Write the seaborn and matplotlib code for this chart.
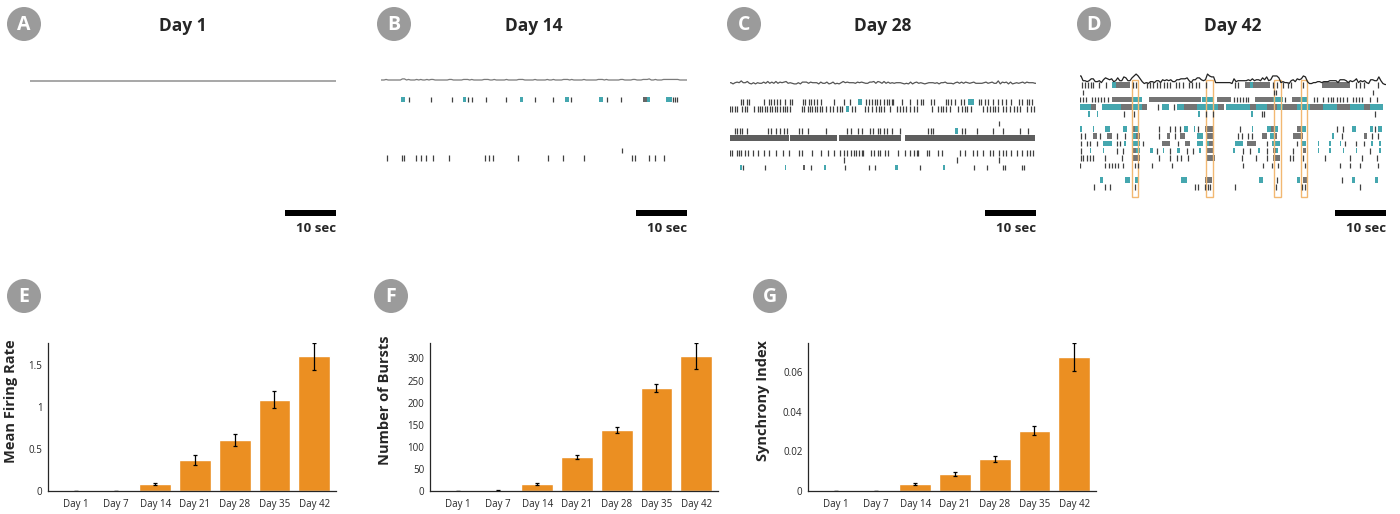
import numpy as np
import matplotlib
matplotlib.use("Agg")
import matplotlib.pyplot as plt
from matplotlib.patches import Circle, Rectangle
import seaborn as sns

# ---------------- bar chart values (E, F, G) ----------------
days = ["Day 1", "Day 7", "Day 14", "Day 21", "Day 28", "Day 35", "Day 42"]
firing_rate = [0.0, 0.003, 0.085, 0.37, 0.61, 1.085, 1.60]
firing_rate_err = [0.0, 0.002, 0.012, 0.055, 0.07, 0.10, 0.16]
bursts = [0, 1, 16, 77, 138, 233, 306]
bursts_err = [0, 1, 3, 4, 7, 10, 29]
synchrony = [0.0, 0.0, 0.0035, 0.0086, 0.0161, 0.0303, 0.0676]
synchrony_err = [0.0, 0.0, 0.0005, 0.0008, 0.0015, 0.0023, 0.0070]

# ---------------- raster data (seconds), one entry per electrode row ----------------
# Day 14
d14_ticks = [
    [5.5, 9.9, 13.9, 17.1, 17.8, 20.6, 24.5, 30.1, 33.7, 37.2, 44.3, 47.1, 57.3, 57.6, 58.0],
    [], [], [], [], [], [],
    [47.3],
    [1.1, 4.1, 4.5, 6.9, 7.9, 8.8, 10.2, 13.3, 20.3, 21.1, 22.0, 26.8, 32.7, 35.6, 39.8,
     49.2, 49.9, 52.5, 53.8, 55.4],
]
d14_dark = [[(51.4, 52.2)], [], [], [], [], [], [], [], []]
d14_teal = [[(4.0, 4.8), (16.0, 16.6), (27.3, 27.9), (36.0, 36.8), (42.8, 43.5), (52.2, 52.7),
             (55.9, 57.0)], [], [], [], [], [], [], [], []]

# Day 28
d28_ticks = [
    [2.2, 2.6, 3.4, 3.7, 6.7, 7.6, 8.0, 8.6, 9.2, 9.9, 10.8, 11.8, 12.2, 14.4, 14.8, 15.5, 15.9,
     16.5, 17.1, 17.8, 20.4, 22.4, 23.5, 26.6, 27.3, 27.9, 28.4, 28.9, 29.5, 30.1, 30.7, 31.2,
     31.7, 32.0, 33.7, 35.2, 36.7, 37.4, 37.9, 39.5, 40.0, 42.4, 42.8, 43.3, 44.1, 45.2, 45.8,
     48.9, 49.3, 50.0, 50.5, 51.5, 52.6, 53.3, 54.2, 55.0, 56.7, 57.2, 58.2, 58.7, 59.3],
    [0.0, 0.3, 0.9, 1.4, 2.4, 2.9, 3.4, 4.8, 5.4, 5.9, 6.3, 6.8, 7.3, 7.8, 8.3, 8.8, 9.3, 9.8,
     10.3, 10.7, 11.2, 11.8, 14.2, 14.6, 15.2, 15.7, 16.1, 16.6, 17.1, 17.6, 18.1, 18.8, 19.6,
     20.1, 20.9, 21.6, 22.0, 24.0, 24.6, 26.4, 27.1, 27.9, 28.6, 29.2, 29.7, 30.2, 31.4, 32.7,
     33.3, 33.9, 34.5, 35.2, 36.0, 36.7, 39.7, 40.8, 41.3, 41.8, 42.4, 43.1, 44.8, 45.4, 46.1,
     46.5, 47.2, 49.7, 50.3, 51.0, 51.5, 52.0, 52.6, 53.5, 54.1, 54.9, 55.6, 56.2, 56.9, 58.2,
     59.0, 59.6],
    [],
    [52.8],
    [1.0, 1.4, 1.9, 2.4, 3.4, 7.5, 8.0, 9.0, 9.9, 10.5, 11.2, 13.5, 14.2, 15.2, 18.8, 22.9, 23.8,
     25.0, 25.8, 27.5, 28.1, 29.0, 29.5, 30.2, 30.8, 31.7, 33.3, 38.9, 39.4, 39.9, 45.4, 46.1,
     48.4, 51.5, 53.6, 56.9, 58.5],
    [],
    [],
    [0.0, 0.3, 1.3, 1.8, 2.2, 2.9, 3.5, 4.6, 5.4, 6.7, 7.6, 9.0, 10.3, 11.6, 13.5, 14.2, 16.1,
     17.8, 19.2, 20.4, 21.6, 22.4, 23.0, 23.7, 24.3, 24.8, 25.3, 25.8, 26.1, 27.6, 28.2, 29.0,
     29.5, 30.4, 31.0, 33.0, 34.3, 35.3, 36.0, 36.6, 36.9, 38.6, 39.1, 40.8, 41.5, 45.1, 46.1,
     47.7, 48.5, 49.7, 51.0, 51.6, 52.8, 53.5, 54.2, 55.0, 56.2, 57.2, 58.2, 58.9, 59.5],
    [22.4, 44.6, 52.7],
    [2.6, 6.9, 15.8, 22.5, 27.3, 28.4, 37.3, 47.8, 50.3, 53.6, 53.9, 57.2, 57.7],
]
d28_dark = [[], [], [], [], [],
            [(0.0, 11.5), (11.8, 21.0), (21.3, 33.6), (34.4, 59.8)],
            [], [], [], [(14.4, 14.8)]]
d28_teal = [[(25.0, 25.9), (46.7, 47.8)], [(22.7, 23.3)], [], [], [(44.2, 44.8)],
            [], [], [], [],
            [(2.0, 2.3), (10.7, 11.0), (18.5, 18.8), (32.4, 32.9), (41.8, 42.2)]]

# Day 42
d42_ticks = [
    [0.3, 1.0, 1.6, 2.1, 2.6, 3.8, 5.1, 10.4, 11.0, 13.1, 13.8, 14.4, 15.1, 15.7, 16.4, 17.0,
     17.6, 18.9, 19.5, 20.2, 21.4, 22.0, 22.7, 23.4, 24.8, 30.4, 31.0, 37.9, 38.6, 39.9, 40.8,
     41.3, 43.8, 54.2, 54.9, 55.6, 58.5],
    [0.5, 38.0, 38.4, 57.5],
    [0.0, 0.6, 1.2, 2.4, 3.0, 3.6, 4.1, 4.7, 5.4, 30.1, 30.7, 31.4, 32.0, 32.5, 33.0, 40.2,
     45.8, 46.4, 47.7, 48.7, 49.2, 49.7, 50.3, 51.0, 51.6, 52.3, 53.6, 54.2, 54.8, 55.2, 56.9,
     58.2],
    [15.2, 18.4],
    [8.7, 10.6, 24.8, 26.1, 35.6, 36.1, 57.9],
    [],
    [15.4, 17.6, 18.6, 19.6, 23.2, 31.4, 50.3, 51.6, 57.8],
    [0.2, 1.0, 3.9, 7.2, 8.8, 15.4, 18.6, 31.0, 31.7, 33.0, 33.7, 51.3, 57.2, 58.5],
    [0.2, 1.3, 2.0, 3.3, 7.2, 7.8, 12.3, 19.3, 36.6, 42.5, 52.0, 54.2, 55.6],
    [0.2, 7.2, 8.5, 15.0, 17.6, 20.9, 22.2, 32.0, 33.3, 36.6, 41.8, 56.9],
    [0.2, 0.6, 1.3, 2.0, 2.6, 4.9, 8.2, 15.4, 17.6, 19.0, 19.9, 21.2, 31.7, 34.6, 36.6, 41.2,
     41.8, 43.8, 48.0, 52.9, 55.2, 58.2],
    [0.0, 4.9, 5.6, 6.2, 6.9, 7.5, 8.5, 10.8, 11.4, 14.1, 18.0, 32.0, 35.9, 37.6, 38.9, 44.1,
     51.0, 52.9, 54.9, 58.5],
    [],
    [38.6, 51.3],
    [2.7, 4.9, 5.8, 10.8, 22.5, 23.2, 24.5, 25.0, 25.5, 30.4, 38.4, 43.5, 44.1, 54.9],
]
d42_dark = [
    [(7.0, 9.8), (32.4, 33.3), (34.0, 37.3), (47.4, 52.9)],
    [],
    [(6.3, 10.3), (13.5, 23.7), (26.9, 29.6), (34.3, 37.9), (41.5, 43.2)],
    [(2.1, 3.1), (8.0, 10.3), (12.2, 13.2), (20.4, 23.0), (27.0, 28.2), (33.3, 34.6),
     (36.6, 38.6), (39.9, 42.5), (45.1, 47.7), (50.3, 52.9), (55.6, 56.9)],
    [],
    [],
    [(10.1, 10.8), (24.5, 26.1), (37.5, 38.0), (42.5, 43.6)],
    [(2.6, 3.3), (5.2, 6.2), (11.0, 11.8), (17.0, 17.6), (19.6, 20.6), (24.8, 26.1),
     (35.6, 36.6), (38.0, 38.6), (41.8, 43.8), (55.6, 56.2)],
    [(16.0, 17.6), (20.6, 21.6), (25.3, 26.1), (32.7, 34.6)],
    [(10.1, 11.0), (24.8, 26.1), (37.9, 38.5), (43.8, 44.4)],
    [(10.1, 11.8), (24.8, 26.5), (37.9, 39.2)],
    [],
    [],
    [(24.5, 25.8), (43.8, 44.6)],
    [],
]
d42_teal = [
    [(6.2, 7.0), (33.3, 34.0)],
    [],
    [(10.3, 12.2), (24.0, 26.3), (37.9, 39.9), (43.2, 44.8)],
    [(0.0, 2.1), (4.4, 8.0), (10.3, 12.2), (16.1, 17.5), (19.1, 20.4), (23.0, 27.0),
     (28.6, 33.3), (34.6, 36.6), (38.6, 39.9), (42.5, 45.1), (47.7, 50.3), (52.9, 55.6),
     (56.9, 59.5)],
    [(1.6, 1.9), (3.3, 3.6), (23.1, 23.5), (33.6, 33.9)],
    [],
    [(0.0, 0.4), (2.5, 2.8), (4.9, 5.9), (8.5, 9.2), (10.8, 11.6), (20.3, 21.2), (22.3, 22.6),
     (33.7, 34.0), (36.6, 37.5), (38.0, 38.9), (43.6, 44.4), (53.3, 54.2), (56.9, 57.5),
     (58.5, 59.2)],
    [(10.1, 11.0), (22.9, 24.2), (37.3, 38.0), (49.5, 49.9)],
    [(4.6, 6.2), (8.7, 9.0), (10.1, 11.8), (22.9, 24.2), (24.8, 25.3), (30.4, 32.0),
     (37.6, 39.2), (43.5, 44.4), (46.6, 46.9), (48.9, 49.2), (50.9, 51.2), (57.1, 57.4),
     (58.7, 59.0)],
    [(1.9, 2.2), (4.5, 4.8), (11.0, 11.8), (13.7, 14.4), (16.2, 16.5), (19.0, 19.6),
     (23.4, 23.7), (30.0, 30.3), (34.9, 35.2), (38.5, 38.9), (46.6, 46.9), (48.9, 49.2),
     (51.5, 51.8), (54.1, 54.4), (58.7, 59.0)],
    [],
    [],
    [],
    [(3.9, 4.6), (8.8, 9.8), (10.8, 11.4), (19.9, 20.9), (35.0, 35.9), (42.5, 43.1),
     (53.3, 53.9), (57.8, 58.5)],
    [],
]
d42_sync_windows = [(10.1, 11.4), (24.7, 26.1), (38.0, 39.4), (43.3, 44.5)]

# ---------------- style ----------------
sns.set_theme(style="white")
plt.rcParams["font.family"] = ["Open Sans", "DejaVu Sans"]

ORANGE = "#EB8F22"
TEAL = "#45a7af"
TICK_C = "#404040"
W, H = 1400, 514

fig = plt.figure(figsize=(14, 5.14), dpi=100)


def population_trace(ticks, dark, teal, bins):
    counts = np.zeros(len(bins) - 1)
    for r in range(len(ticks)):
        active = np.zeros(len(bins) - 1, dtype=bool)
        if ticks[r]:
            h, _ = np.histogram(ticks[r], bins)
            active |= h > 0
        for s, e in dark[r] + teal[r]:
            active |= (bins[1:] > s) & (bins[:-1] < e)
        counts += active
    return counts


# (title, left px, first row px, trace base px, gain, trace colour, dense colour, ticks, dark, teal)
panels = [
    ("Day 1", 30, 99.0, 81.0, 0.0, "#a0a0a0", "#666666", [], [], []),
    ("Day 14", 381, 99.3, 80.0, 0.55, "#7a7a7a", "#666666", d14_ticks, d14_dark, d14_teal),
    ("Day 28", 730, 101.7, 84.5, 0.6, "#555555", "#5e5e5e", d28_ticks, d28_dark, d28_teal),
    ("Day 42", 1080, 85.0, 84.5, 0.95, "#222222", "#747474", d42_ticks, d42_dark, d42_teal),
]
ROW_STEP = 7.3
TICK_H = 5.6
bins = np.arange(0, 60.01, 0.4)
centers = (bins[:-1] + bins[1:]) / 2

for title, left, row0, tbase, gain, tcol, dcol, ticks, dark, teal in panels:
    ax = fig.add_axes([left / W, (H - 240) / H, 306 / W, 180 / H])
    ax.set_xlim(0, 60)
    ax.set_ylim(240, 60)
    ax.axis("off")

    # population rate trace
    if ticks:
        cnt = population_trace(ticks, dark, teal, bins)
        ax.plot(np.r_[0, centers, 60], tbase - gain * np.r_[cnt[0], cnt, cnt[-1]],
                color=tcol, lw=0.9)
    else:
        ax.plot([0, 60], [tbase, tbase], color=tcol, lw=1.3)

    for r in range(len(ticks)):
        y = row0 + ROW_STEP * r
        if dark[r]:
            ax.broken_barh([(s, e - s) for s, e in dark[r]], (y - TICK_H / 2, TICK_H),
                           facecolor=dcol, edgecolor="none")
        if teal[r]:
            ax.broken_barh([(s, e - s) for s, e in teal[r]], (y - TICK_H / 2, TICK_H),
                           facecolor=TEAL, edgecolor="none")
        if ticks[r]:
            ax.vlines(ticks[r], y - TICK_H / 2, y + TICK_H / 2, color=TICK_C, lw=0.9)

    if title == "Day 42":
        for s, e in d42_sync_windows:
            ax.add_patch(Rectangle((s, 80), e - s, 117, fill=False,
                                   edgecolor="#f2b872", lw=1.0))

    # scale bar 10 s
    ax.add_patch(Rectangle((50, 210), 10, 6, facecolor="black", edgecolor="none"))
    ax.text(60, 229, "10 sec", ha="right", va="center", fontsize=9.5, fontweight="bold")

# ---------------- bar charts ----------------
bar_specs = [
    (48, firing_rate, firing_rate_err, "Mean Firing Rate", 1.76,
     [0, 0.5, 1, 1.5], ["0", "0.5", "1", "1.5"], 0.104),
    (430, bursts, bursts_err, "Number of Bursts", 335,
     [0, 50, 100, 150, 200, 250, 300], None, 0.132),
    (808, synchrony, synchrony_err, "Synchrony Index", 0.0745,
     [0, 0.02, 0.04, 0.06], ["0", "0.02", "0.04", "0.06"], 0.132),
]
for left, vals, errs, ylabel, ytop, yt, ytl, lab_x in bar_specs:
    ax = fig.add_axes([left / W, (H - 491) / H, 288 / W, 148 / H])
    sns.barplot(x=days, y=vals, color=ORANGE, saturation=1, width=0.8, ax=ax,
                errorbar=None)
    ax.errorbar(range(len(days)), vals, yerr=errs, fmt="none", ecolor="black",
                elinewidth=0.9, capsize=1.6, capthick=0.9)
    ax.set_xlim(-0.7, 6.55)
    ax.set_ylim(0, ytop)
    ax.set_yticks(yt)
    if ytl:
        ax.set_yticklabels(ytl)
    ax.set_xlabel("")
    ax.set_ylabel(ylabel, fontsize=10.5, fontweight="bold")
    ax.yaxis.set_label_coords(-lab_x, 0.61)
    for s in ["top", "right"]:
        ax.spines[s].set_visible(False)
    for s in ["left", "bottom"]:
        ax.spines[s].set_color("#262626")
        ax.spines[s].set_linewidth(0.9)
    ax.tick_params(direction="in", length=3, width=0.8, colors="#262626",
                   labelsize=7, pad=4)
    ax.tick_params(axis="x", pad=6)
    ax.set_facecolor("white")

# ---------------- overlay: panel letters & titles ----------------
ov = fig.add_axes([0, 0, 1, 1], zorder=10)
ov.set_xlim(0, W)
ov.set_ylim(H, 0)
ov.axis("off")
ov.patch.set_alpha(0)

letters = [("A", 24, 24), ("B", 394, 24), ("C", 744, 24), ("D", 1094, 24),
           ("E", 24, 296), ("F", 391, 296), ("G", 770, 296)]
for letter, cx, cy in letters:
    ov.add_patch(Circle((cx, cy), 17, facecolor="#9b9b9b", edgecolor="none"))
    ov.text(cx, cy + 1, letter, ha="center", va="center", color="white",
            fontsize=14, fontweight="bold")

for title, left, *_ in panels:
    ov.text(left + 153, 26, title, ha="center", va="center", fontsize=12.5,
            fontweight="bold")

fig.savefig("out.png", dpi=100, facecolor="white")
